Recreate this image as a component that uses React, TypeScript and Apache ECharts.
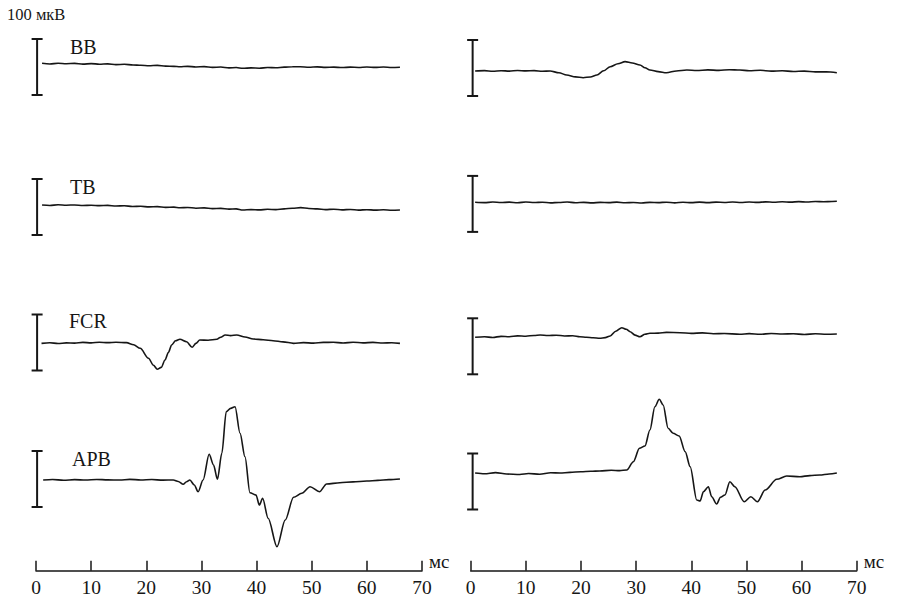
import React, { useEffect, useRef } from "react";
import * as echarts from "echarts";

// Traces: [time in ms, amplitude in µV relative to the scale-bar centre]
const muscles = ["BB", "TB", "FCR", "APB"];
const xTicks = { min: 0, max: 70, interval: 10 };
const unitX = "мс";
const unitY = "100 мкВ";
const scaleBarHalf = 50; // ±50 µV = 100 µV bar

const leftBB = [[1.1,6.6],[2.5,5.4],[4,6.8],[5.5,5.9],[7,6.4],[8.5,5.2],[10,6.1],[11.5,5.0],[13,5.6],[14.5,4.3],[16,4.8],[17.6,3.6],[19,3.0],[20.5,2.2],[22,2.9],[23.5,1.6],[25,1.2],[26.1,0.5],[27.5,1.2],[29,0.1],[30.5,0.6],[32,-0.6],[33.5,-0.1],[35,-1.5],[36.3,-1.0],[37.5,-2.3],[39,-1.6],[40.5,-2.1],[42,-0.9],[43.5,-1.4],[45,-0.2],[46.5,0.4],[47.9,0.5],[49.5,-0.4],[51,0.3],[52.5,-0.7],[54,-0.2],[55.5,-1.0],[57,-0.3],[58.5,-0.8],[60,0.0],[61.5,-0.7],[63,-0.1],[64.5,-0.9],[66,-0.5]];
const leftTB = [[1.1,3.6],[2.5,2.8],[4,3.9],[5.5,3.2],[7,3.7],[8.5,2.6],[10,3.1],[11.5,2.4],[13,2.9],[14.5,1.8],[16,2.1],[17.5,0.9],[19,1.3],[20.5,0.2],[22,0.6],[23.5,-0.6],[25,-0.3],[26.1,-1.3],[27.5,-0.8],[29,-2.1],[30.5,-1.6],[32,-2.9],[33.5,-2.4],[35,-3.8],[36.3,-3.3],[37.5,-5.4],[39,-4.6],[40.5,-5.2],[42,-4.1],[43.5,-4.6],[45,-3.3],[46.5,-2.3],[48,-1.2],[49.5,-2.6],[51,-3.4],[52.5,-4.6],[54,-4.0],[55.5,-5.1],[57,-4.4],[58.5,-5.5],[60,-4.8],[61.5,-5.6],[63,-4.9],[64.5,-5.8],[66,-5.4]];
const leftFCR = [[1.0,-1.5],[2.5,-0.4],[4,-1.8],[5.5,-0.7],[7,-1.2],[8.5,0.2],[10,-0.6],[11.5,0.4],[13,-0.3],[14.5,0.5],[16.4,-0.3],[17.7,-4.0],[18.9,-10.4],[20.4,-28.2],[21.3,-40.5],[22.0,-47.9],[22.7,-44.5],[23.4,-31.2],[24.0,-18],[24.6,-4.5],[25.3,3.0],[26.1,5.7],[27.3,1.4],[28.3,-8.6],[29.0,-1.5],[29.7,4.5],[31.2,4.0],[32.8,5.7],[33.5,9.5],[34.3,13.4],[35.3,12.2],[36.4,13.4],[37.9,9.8],[39.4,6.3],[41.2,4.8],[43.0,3.2],[44.8,1.2],[46.7,-1.5],[48.5,-0.3],[50.3,-1.2],[52.1,0.2],[53.9,0.4],[55.7,-0.8],[57.5,0.5],[59.3,-0.6],[61.1,0.3],[62.9,-1.0],[64.5,-0.5],[66.0,-1.5]];
const leftAPB = [[1.3,-1.8],[3,-0.9],[5,-2.2],[7,-1.1],[9,-1.9],[11,-0.8],[13,-1.6],[15.2,-1.8],[17,-0.7],[19,-1.7],[21,-1.0],[23,-2.0],[24.9,-1.8],[25.8,-4.5],[26.7,-9.5],[27.3,-5],[27.9,-1.8],[28.7,-10.7],[29.4,-22.7],[30.3,-1.8],[31.4,44.1],[32.2,25],[32.9,-0.5],[33.7,45.9],[34.5,120.2],[35.3,126.2],[36.1,129.1],[37.0,81.6],[37.9,39.8],[38.8,-24.5],[39.9,-28.6],[40.5,-46.4],[41.1,-34.5],[42.1,-70.2],[43.7,-120.9],[45.2,-73.2],[46.7,-32.7],[48.2,-25.5],[49.7,-13.8],[51.4,-22.7],[52.7,-8.9],[55.1,-6.6],[57.5,-5.2],[60.0,-3.6],[62,-2.4],[64,-1.2],[66.0,0]];

const rightBB = [[0.8,-5.4],[2.5,-4.6],[4,-5.9],[5.5,-4.8],[7,-5.6],[8.5,-4.4],[10,-5.2],[11.5,-4.7],[13,-5.8],[14.4,-5.4],[16,-8.5],[17.4,-12.5],[19,-15.8],[20.4,-17.3],[21.7,-16],[22.9,-12.5],[24.1,-5],[25.3,2.3],[26.7,7.5],[28.0,11.3],[29.3,8.9],[30.7,5.4],[31.6,0.5],[32.5,-3.6],[34,-6.5],[35.5,-8.4],[37.3,-5.3],[39.2,-3.6],[41,-4.5],[43,-3.4],[45,-4.2],[46.9,-3.0],[48.8,-3.6],[50.5,-4.8],[52.5,-4.0],[54.5,-5.6],[56.5,-4.9],[58.5,-6.2],[60.5,-5.5],[62.5,-7.0],[64.5,-6.8],[66.4,-8.4]];
const rightTB = [[0.8,2.9],[2.5,2.2],[4,3.4],[5.5,2.5],[7,3.1],[8.5,2.0],[10,3.3],[11.5,2.4],[13,3.0],[14.5,1.9],[16,2.6],[17.5,3.3],[19,2.1],[20.5,2.8],[22,1.8],[23.5,2.7],[25,2.2],[26.5,3.1],[28,2.0],[29.5,2.6],[31,1.7],[32.5,2.8],[34,2.3],[35.5,3.0],[37,1.9],[38.5,2.9],[40,2.3],[41.5,3.2],[43,2.2],[44.5,3.1],[46,2.6],[47.5,3.4],[49,2.5],[50.5,3.3],[52,2.7],[53.5,3.6],[55,3.0],[56.5,3.8],[58,3.2],[59.5,4.0],[61,3.4],[62.5,4.2],[64,3.8],[65.5,4.4],[66.4,4.6]];
const rightFCR = [[0.8,16.1],[2.5,17.0],[4,15.8],[5.5,17.8],[7,17.0],[8.5,18.6],[10,18.0],[11.5,19.4],[12.6,20.2],[14,19.2],[15.5,19.8],[17,18.5],[18.5,18.9],[19.8,17.1],[21,16.2],[22.2,15.4],[23.4,14.3],[24.4,15.5],[25.3,18.4],[26.3,27],[27.4,33.2],[28.2,30.5],[28.9,26.1],[29.8,20],[30.7,17.1],[31.6,21.5],[32.5,23.2],[34,23.6],[35.5,24.8],[38.0,24.3],[40,23.0],[42,23.9],[44,22.5],[46,22.9],[48.8,21.4],[50.5,22.6],[52.5,21.5],[54.5,22.8],[56.5,21.9],[58.5,22.4],[60.5,21.2],[62.5,22.3],[64.5,21.6],[66.4,22.0]];
const rightAPB = [[0.8,15.2],[2.5,13.8],[4.5,15.9],[6.5,13.4],[8.9,12.5],[10.5,14.2],[12.5,13.0],[14.5,15.6],[16.2,15.2],[18,16.3],[20,17.5],[21.8,18.2],[23.4,18.8],[25.5,20.1],[27,19.4],[28.3,20.5],[29.5,35.4],[30.6,59.3],[31.6,63.4],[32.5,92],[33.4,133.6],[34.2,146.8],[34.9,136.6],[35.8,95],[36.7,86.1],[37.8,81.3],[38.9,53.2],[39.8,26.4],[41.0,-33],[41.6,-34.8],[42.2,-18.2],[43.1,-9.3],[43.7,-27.1],[44.6,-40.2],[45.3,-28.2],[46.1,-24.1],[47.0,-0.4],[47.9,-9.3],[49.6,-36.1],[50.8,-27.1],[52.0,-36.1],[53.4,-15.2],[55.5,3.9],[57.3,9.8],[59.7,8.6],[61.5,10.5],[63.3,11.6],[65,13.5],[66.4,15.2]];

const leftTraces = [leftBB, leftTB, leftFCR, leftAPB];
const rightTraces = [rightBB, rightTB, rightFCR, rightAPB];

// layout (pixels)
const FONT = '"Liberation Serif", "Times New Roman", serif';
const INK = "#161616";
const colLeft = [36, 470.7];
const colWidth = 386;
const rowCenters = [
  [67, 207, 342.5, 479],
  [68, 203.9, 346.3, 481.5],
];
const scaleBarX = [0.2, 0.35];
const labelPos = [
  [70, 47],
  [70, 187],
  [69, 321],
  [72, 459],
];

export default function App() {
  const ref = useRef<HTMLDivElement>(null);

  useEffect(() => {
    if (!ref.current) return;
    const chart = echarts.init(ref.current, null, { renderer: "svg" });

    const grid: any[] = [];
    const xAxis: any[] = [];
    const yAxis: any[] = [];
    const series: any[] = [];

    [leftTraces, rightTraces].forEach((traces, col) => {
      traces.forEach((trace, row) => {
        const idx = grid.length;
        const c = rowCenters[col][row];
        grid.push({ left: colLeft[col], width: colWidth, top: c - 56, height: 112 });
        xAxis.push({ gridIndex: idx, type: "value", min: xTicks.min, max: xTicks.max, show: false });
        yAxis.push({ gridIndex: idx, type: "value", min: -100, max: 100, show: false });
        series.push({
          type: "line",
          xAxisIndex: idx,
          yAxisIndex: idx,
          data: trace,
          showSymbol: false,
          symbol: "none",
          smooth: 0.3,
          smoothMonotone: "x",
          clip: false,
          silent: true,
          lineStyle: { color: INK, width: 1.6 },
        });
        series.push({
          type: "custom",
          xAxisIndex: idx,
          yAxisIndex: idx,
          silent: true,
          data: [[scaleBarX[col], scaleBarHalf, -scaleBarHalf]],
          renderItem: (_p: any, api: any) => {
            const t = api.coord([api.value(0), api.value(1)]);
            const b = api.coord([api.value(0), api.value(2)]);
            const w = 5.5;
            const st = { stroke: INK, lineWidth: 2 };
            return {
              type: "group",
              children: [
                { type: "line", shape: { x1: t[0], y1: t[1], x2: b[0], y2: b[1] }, style: st },
                { type: "line", shape: { x1: t[0] - w, y1: t[1], x2: t[0] + w, y2: t[1] }, style: st },
                { type: "line", shape: { x1: b[0] - w, y1: b[1], x2: b[0] + w, y2: b[1] }, style: st },
              ],
            };
          },
        });
      });
    });

    // bottom time axes
    [0, 1].forEach((col) => {
      const idx = grid.length;
      grid.push({ left: colLeft[col], width: colWidth, top: 560, height: 10.7 });
      xAxis.push({
        gridIndex: idx,
        type: "value",
        min: xTicks.min,
        max: xTicks.max,
        interval: xTicks.interval,
        position: "bottom",
        axisLine: { show: true, lineStyle: { color: INK, width: 1.5 } },
        axisTick: { show: true, inside: true, length: 10, lineStyle: { color: INK, width: 1.5 } },
        axisLabel: { fontSize: 19.5, fontFamily: FONT, color: INK, margin: 7 },
        splitLine: { show: false },
        name: unitX,
        nameLocation: "end",
        nameGap: 7,
        nameTextStyle: { fontSize: 19, fontFamily: FONT, color: INK, verticalAlign: "bottom" },
      });
      yAxis.push({ gridIndex: idx, type: "value", min: 0, max: 1, show: false });
    });

    const graphic: any[] = [
      {
        type: "text",
        x: 7,
        y: 14,
        silent: true,
        style: { text: unitY, fontSize: 16.5, fontFamily: FONT, fill: INK, verticalAlign: "middle" },
      },
      ...muscles.map((m, i) => ({
        type: "text",
        x: labelPos[i][0],
        y: labelPos[i][1],
        silent: true,
        style: { text: m, fontSize: 20, fontFamily: FONT, fill: INK, verticalAlign: "middle" },
      })),
    ];

    chart.setOption({
      animation: false,
      backgroundColor: "#ffffff",
      grid,
      xAxis,
      yAxis,
      series,
      graphic,
    });

    return () => chart.dispose();
  }, []);

  return (
    <div
      ref={ref}
      style={{ position: "fixed", left: 0, top: 0, width: 899, height: 609, background: "#fff" }}
    />
  );
}
